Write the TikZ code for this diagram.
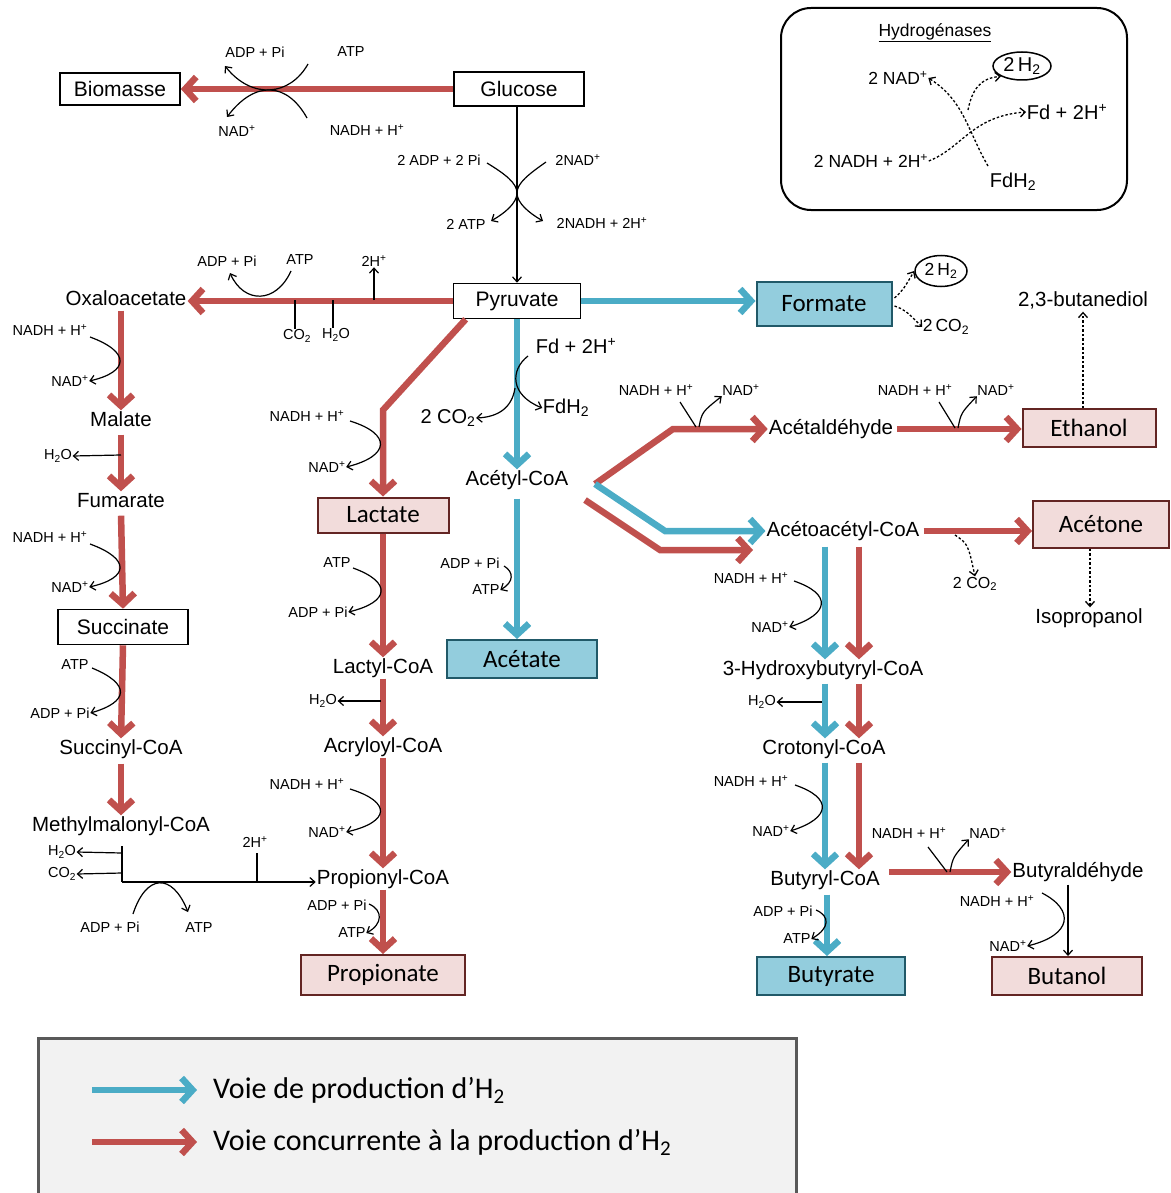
\documentclass[tikz,border=0pt]{standalone}
\usepackage{fontspec}
\setmainfont{Liberation Sans}
\newfontfamily\calib{Carlito}
\usetikzlibrary{arrows.meta,calc,shapes.geometric}
\definecolor{myred}{HTML}{C0504D}
\definecolor{myblue}{HTML}{4BACC6}
\definecolor{pinkf}{HTML}{F2DCDB}
\definecolor{dred}{HTML}{632523}
\definecolor{bluef}{HTML}{93CDDD}
\definecolor{dblue}{HTML}{215968}
\definecolor{legf}{HTML}{F2F2F2}
\definecolor{legb}{HTML}{595959}
\newcommand\pl{\textsuperscript{+}}
\newcommand\sbt[1]{\textsubscript{#1}}
\begin{document}
\begin{tikzpicture}[x=1pt,y=-1pt,
  lab/.style={font=\fontsize{20.5}{23}\selectfont, inner sep=1pt, text height=15pt, text depth=4pt},
  sm/.style={font=\fontsize{14.5}{16}\selectfont, inner sep=0.5pt},
  md/.style={font=\fontsize{20}{23}\selectfont, inner sep=0.5pt},
  hm/.style={font=\fontsize{17.5}{20}\selectfont, inner sep=0.5pt},
  wbox/.style={draw=black, line width=1.6pt, fill=white, font=\fontsize{21}{24}\selectfont, inner sep=0pt},
  pbox/.style={draw=dred, line width=2pt, fill=pinkf, font=\calib\fontsize{25}{28}\selectfont, inner sep=0pt},
  bbox/.style={draw=dblue, line width=2pt, fill=bluef, font=\calib\fontsize{25}{28}\selectfont, inner sep=0pt},
  ra/.style={draw=myred, line width=6.5pt, -{Straight Barb[length=11pt,width=24pt]}},
  ba/.style={draw=myblue, line width=6.5pt, -{Straight Barb[length=11pt,width=24pt]}},
  ta/.style={draw=black, line width=1.2pt, -{Straight Barb[length=5pt,width=9pt]}},
  tl/.style={draw=black, line width=1.2pt},
  dd/.style={draw=black, line width=1.3pt, dash pattern=on 2.5pt off 2pt, -{Straight Barb[length=5pt,width=9pt]}},
  h2/.style={draw=black, line width=1.5pt, ellipse, inner sep=0pt}
]
\useasboundingbox (0,0) rectangle (1170,1193);

% ---------- boxes ----------
\node[wbox, minimum width=120pt, minimum height=32pt] (bio) at (120,89) {Biomasse};
\node[wbox, minimum width=130pt, minimum height=34pt] (glu) at (519,89) {Glucose};
\node[wbox, minimum width=127pt, minimum height=35pt] (pyr) at (517,301) {Pyruvate};
\node[wbox, minimum width=130pt, minimum height=35pt] (suc) at (123,627) {Succinate};
\node[pbox, minimum width=131pt, minimum height=35pt] (lac) at (383,515) {Lactate};
\node[bbox, minimum width=150pt, minimum height=38pt] (ace) at (522,659) {Acétate};
\node[bbox, minimum width=135pt, minimum height=44pt] (for) at (824,304) {Formate};
\node[pbox, minimum width=133pt, minimum height=38pt] (eth) at (1089,428) {Ethanol};
\node[pbox, minimum width=136pt, minimum height=47pt] (acn) at (1101,524) {Acétone};
\node[pbox, minimum width=164pt, minimum height=40pt] (pro) at (383,975) {Propionate};
\node[bbox, minimum width=148pt, minimum height=38pt] (but) at (831,976) {Butyrate};
\node[pbox, minimum width=150pt, minimum height=38pt] (bol) at (1067,976) {Butanol};

% ---------- metabolite labels ----------
\node[lab] (oxa) at (126,300) {Oxaloacetate};
\node[lab] (mal) at (121,421) {Malate};
\node[lab] (fum) at (121,502) {Fumarate};
\node[lab] (sca) at (121,749) {Succinyl-CoA};
\node[lab] (mmc) at (121,826) {Methylmalonyl-CoA};
\node[lab] (lyc) at (383,668) {Lactyl-CoA};
\node[lab] (acr) at (383,747) {Acryloyl-CoA};
\node[lab] (prc) at (383,879) {Propionyl-CoA};
\node[lab] (acc) at (517,480) {Acétyl-CoA};
\node[lab] (ald) at (831,429) {Acétaldéhyde};
\node[lab] (aac) at (843,531) {Acétoacétyl-CoA};
\node[lab] (hbc) at (823,670) {3-Hydroxybutyryl-CoA};
\node[lab] (crc) at (824,749) {Crotonyl-CoA};
\node[lab] (buc) at (825,880) {Butyryl-CoA};
\node[lab] (bal) at (1078,872) {Butyraldéhyde};
\node[lab] (bdo) at (1083,301) {2,3-butanediol};
\node[lab] (iso) at (1089,618) {Isopropanol};

% ---------- main pathway arrows ----------
\draw[ra] (glu.west) -- (bio.east);
\draw[ta] (glu.south -| pyr.north) -- (pyr.north);
\draw[ra] (pyr.west) -- (pyr.west -| oxa.east);
\draw[ba] (pyr.east) -- (pyr.east -| for.west);
\draw[ba] (pyr.south) -- (acc.north);
\draw[ba, shorten <=8pt] (acc.south) -- (acc.south |- ace.north);
\draw[ra, line join=miter] ($(pyr.south west)+(13,0)$) -- (383,410) -- (lac.north);

\draw[ra] (mal.north |- oxa.south) -- (mal.north);
\draw[ra, shorten <=3pt] (mal.south) -- (fum.north);
\draw[ra, shorten <=3pt] (fum.south) -- (suc.north);
\draw[ra] (suc.south) -- (sca.north);
\draw[ra, shorten <=4pt] (sca.south) -- (mmc.north);

\draw[ra] (lac.south) -- (lyc.north);
\draw[ra] (lyc.south) -- (acr.north);
\draw[ra] (acr.south) -- (prc.north);
\draw[ra] (prc.south) -- (pro.north);

\coordinate (fk) at (595,484);
\coordinate (fk2) at (585,500);
\coordinate (fk3) at (753,550);
\draw[ra, line join=miter] (fk) -- (673,429) -- (ald.west);
\draw[ra, line join=miter] (fk2) -- (660,550) -- (fk3);
\draw[ba, line join=miter] (fk) -- (665,531) -- (aac.west);

\draw[ra, shorten <=3pt] (ald.east) -- (ald.east -| eth.west);
\draw[ra, shorten <=3pt] (aac.east) -- (aac.east -| acn.west);

\draw[ba, shorten <=5pt] (aac.south -| 825,0) -- (hbc.north -| 825,0);
\draw[ra, shorten <=5pt] (aac.south -| 859,0) -- (hbc.north -| 859,0);
\draw[ba, shorten <=3pt] (hbc.south -| 825,0) -- (crc.north -| 825,0);
\draw[ra, shorten <=3pt] (hbc.south -| 859,0) -- (crc.north -| 859,0);
\draw[ba, shorten <=3pt] (crc.south -| 825,0) -- (buc.north -| 825,0);
\draw[ra, shorten <=3pt] (crc.south -| 859,0) -- (buc.north -| 859,0);
\draw[ba, shorten <=4pt] (buc.south -| 827,0) -- (but.north -| 827,0);
\draw[ra, shorten <=8pt] (buc.east |- bal.west) -- (bal.west);
\draw[ta, shorten <=2pt] (bal.south -| 1068,0) -- (bol.north -| 1068,0);

\draw[dd] (eth.north -| 1083,0) -- (bdo.south -| 1083,0);
\draw[dd] (acn.south -| 1090,0) -- (iso.north -| 1090,0);

% ---------- Biomasse cofactors ----------
\node[sm] (b_adp) at (255,52) {ADP + Pi};
\node[sm] (b_atp) at (351,52) {ATP};
\node[sm] (b_nad) at (237,131) {NAD\pl};
\node[sm] (b_nadh) at (367,130) {NADH + H\pl};
\draw[ta] (308,64) .. controls (290,96) and (252,100) .. (225,66);
\draw[ta] (307,118) .. controls (287,82) and (255,80) .. (227,117);

% ---------- glycolysis cofactors ----------
\node[sm] (g_adp) at (439,160) {2 ADP + 2 Pi};
\node[sm] (g_nad) at (578,160) {2NAD\pl};
\node[sm] (g_atp) at (466,224) {2 ATP};
\node[sm] (g_nadh) at (602,223) {2NADH + 2H\pl};
\draw[ta] (487,163) .. controls (505,174) and (517,183) .. (517,193) .. controls (517,203) and (505,213) .. (491,221);
\draw[ta] (546,162) .. controls (529,174) and (517,183) .. (517,193) .. controls (517,203) and (529,213) .. (543,221);

% ---------- Pyruvate -> Oxaloacetate cofactors ----------
\node[sm] (o_adp) at (227,261) {ADP + Pi};
\node[sm] (o_atp) at (300,260) {ATP};
\node[sm] (o_h) at (374,261) {2H\pl};
\node[sm] (o_co2) at (297,336) {CO\sbt{2}};
\node[sm] (o_h2o) at (336,335) {H\sbt{2}O};
\draw[ta] (291,271) .. controls (276,304) and (244,304) .. (230,273);
\draw[ta] (374,300) -- (o_h.south);
\draw[tl] (295,300) -- (o_co2.north -| 295,0);
\draw[tl] (333,300) -- (o_h2o.north -| 333,0);

% ---------- left column cofactors ----------
\node[sm] (l_nadh1) at (50,330) {NADH + H\pl};
\node[sm] (l_nad1) at (70,381) {NAD\pl};
\draw[ta] (90,337) .. controls (131,352) and (129,372) .. (l_nad1.east);
\node[sm] (l_h2o) at (58,456) {H\sbt{2}O};
\draw[ta] (121,455) -- (l_h2o.east);
\node[sm] (l_nadh2) at (50,537) {NADH + H\pl};
\node[sm] (l_nad2) at (70,587) {NAD\pl};
\draw[ta] (90,544) .. controls (131,559) and (129,578) .. (l_nad2.east);
\node[sm] (l_atp) at (75,665) {ATP};
\node[sm] (l_adp) at (60,713) {ADP + Pi};
\draw[ta] (92,668) .. controls (131,684) and (129,702) .. (l_adp.east);
\node[sm] (m_h2o) at (62,852) {H\sbt{2}O};
\node[sm] (m_co2) at (62,874) {CO\sbt{2}};
\node[sm] (m_h) at (255,842) {2H\pl};
\node[sm] (m_adp) at (110,927) {ADP + Pi};
\node[sm] (m_atp) at (199,928) {ATP};
\draw[tl] (122,846) -- (122,882);
\draw[ta] (122,882) -- (prc.west |- 0,882);
\draw[ta] (122,853) -- (m_h2o.east);
\draw[ta] (122,873) -- (m_co2.east);
\draw[tl] (257,853) -- (257,882);
\draw[ta] (133,914) .. controls (146,874) and (172,872) .. (188,912);

% ---------- lactate / propionate branch cofactors ----------
\node[sm] (c_nadh1) at (307,416) {NADH + H\pl};
\node[sm] (c_nad1) at (327,467) {NAD\pl};
\draw[ta] (350,421) .. controls (392,434) and (390,456) .. (c_nad1.east);
\node[sm] (c_atp) at (337,563) {ATP};
\node[sm] (c_adp) at (318,612) {ADP + Pi};
\draw[ta] (353,568) .. controls (392,582) and (390,602) .. (c_adp.east);
\node[sm] (c_h2o) at (323,701) {H\sbt{2}O};
\draw[ta] (381,701) -- (c_h2o.east);
\node[sm] (c_nadh2) at (307,784) {NADH + H\pl};
\node[sm] (c_nad2) at (327,832) {NAD\pl};
\draw[ta] (350,789) .. controls (392,802) and (390,822) .. (c_nad2.east);
\node[sm] (c_adp2) at (337,905) {ADP + Pi};
\node[sm] (c_atp2) at (352,933) {ATP};
\draw[ta] (369,904) .. controls (383,910) and (383,924) .. (c_atp2.east);

% ---------- pyruvate -> acetyl-CoA cofactors ----------
\node[md] (p_fd) at (576,346) {Fd + 2H\pl};
\node[md] (p_fdh) at (566,408) {FdH\sbt{2}};
\node[md] (p_co2) at (448,418) {2 CO\sbt{2}};
\draw[ta] (528,356) .. controls (510,370) and (510,395) .. (p_fdh.west);
\draw[ta] (515,388) .. controls (512,408) and (498,417) .. (p_co2.east);
\node[sm] (a_adp) at (470,563) {ADP + Pi};
\node[sm] (a_atp) at (486,590) {ATP};
\draw[ta] (504,566) .. controls (514,572) and (514,582) .. (a_atp.east);

% ---------- formate ----------
\node[h2, minimum width=52pt, minimum height=31pt, font=\fontsize{17.5}{20}\selectfont] (f_h2) at (941,271) {2\,H\sbt{2}};
\node[hm] (f_co2) at (946,327) {2\,CO\sbt{2}};
\draw[dd] ($(for.east)+(2,-6)$) .. controls (903,290) .. (f_h2.west);
\draw[dd] ($(for.east)+(2,2)$) .. controls (905,310) .. (f_co2.west);

% ---------- acetaldehyde / ethanol cofactors ----------
\node[sm] (e_nadh1) at (656,390) {NADH + H\pl};
\node[sm] (e_nad1) at (741,390) {NAD\pl};
\draw[tl] (680,402) -- (696,427);
\draw[ta] (699,427) .. controls (702,412) .. (e_nad1.south west);
\node[sm] (e_nadh2) at (915,390) {NADH + H\pl};
\node[sm] (e_nad2) at (996,390) {NAD\pl};
\draw[tl] (939,402) -- (955,428);
\draw[ta] (958,428) .. controls (961,413) .. (e_nad2.south west);

% ---------- acetone ----------
\node[sm, font=\fontsize{16}{18}\selectfont] (k_co2) at (975,584) {2 CO\sbt{2}};
\draw[dd] (955,535) .. controls (968,544) .. (k_co2.north);

% ---------- butyrate branch cofactors ----------
\node[sm] (r_nadh1) at (751,578) {NADH + H\pl};
\node[sm] (r_nad1) at (770,627) {NAD\pl};
\draw[ta] (794,581) .. controls (832,594) and (830,614) .. (r_nad1.east);
\node[sm] (r_h2o) at (762,702) {H\sbt{2}O};
\draw[ta] (822,702) -- (r_h2o.east);
\node[sm] (r_nadh2) at (751,781) {NADH + H\pl};
\node[sm] (r_nad2) at (771,831) {NAD\pl};
\draw[ta] (795,785) .. controls (833,798) and (831,818) .. (r_nad2.east);
\node[sm] (r_adp) at (783,911) {ADP + Pi};
\node[sm] (r_atp) at (797,939) {ATP};
\draw[ta] (816,910) .. controls (830,916) and (830,928) .. (r_atp.east);
\node[sm] (y_nadh1) at (909,833) {NADH + H\pl};
\node[sm] (y_nad1) at (988,833) {NAD\pl};
\draw[tl] (928,847) -- (947,872);
\draw[ta] (950,872) .. controls (953,857) .. (y_nad1.south west);
\node[sm] (y_nadh2) at (997,901) {NADH + H\pl};
\node[sm] (y_nad2) at (1008,946) {NAD\pl};
\draw[ta] (1042,893) .. controls (1075,910) and (1072,935) .. (y_nad2.east);

% ---------- hydrogenases ----------
\node[draw, line width=2pt, rounded corners=30pt, minimum width=346pt, minimum height=202pt] (hyd) at (954,109) {};
\node[hm] (hy_t) at (935,33) {\underline{Hydrogénases}};
\node[hm] (hy_nad) at (898,78) {2 NAD\pl};
\node[h2, minimum width=58pt, minimum height=28pt, font=\fontsize{20}{22}\selectfont] (hy_h2) at (1022,66) {2\,H\sbt{2}};
\node[md] (hy_fd) at (1067,112) {Fd + 2H\pl};
\node[hm] (hy_nadh) at (871,161) {2 NADH + 2H\pl};
\node[md] (hy_fdh) at (1013,182) {FdH\sbt{2}};
\draw[dd] (hy_nadh.east) .. controls (962,148) and (972,116) .. (hy_fd.west);
\draw[dd] (988,166) .. controls (968,132) and (964,100) .. (hy_nad.east);
\draw[dd] (968,110) .. controls (972,90) and (980,78) .. (hy_h2.south west);

% ---------- legend ----------
\node[draw=legb, line width=2.5pt, fill=legf, minimum width=758pt, minimum height=175pt, anchor=north west] (leg) at (37,1037) {};
\coordinate (la1) at (92,1090);
\coordinate (lb1) at (197,1090);
\coordinate (la2) at (92,1142);
\coordinate (lb2) at (197,1142);
\draw[ba] (la1) -- (lb1);
\draw[ra] (la2) -- (lb2);
\node[anchor=west, font=\calib\fontsize{30}{34}\selectfont, inner sep=0pt] (lt1) at (213,1090) {Voie de production d’H\sbt{2}};
\node[anchor=west, font=\calib\fontsize{30}{34}\selectfont, inner sep=0pt] (lt2) at (213,1142) {Voie concurrente à la production d’H\sbt{2}};
\end{tikzpicture}
\end{document}
